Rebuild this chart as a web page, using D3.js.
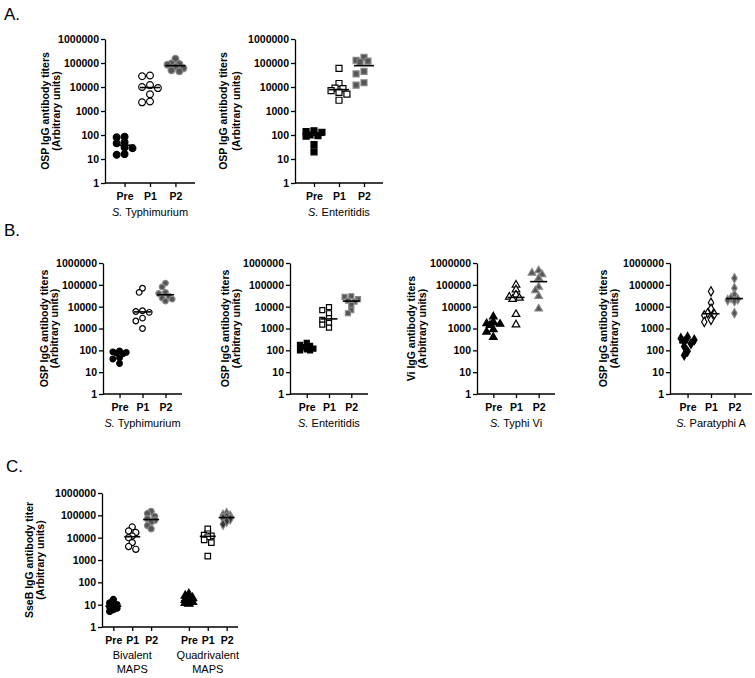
<!DOCTYPE html>
<html>
<head>
<meta charset="utf-8">
<title>MAPS antibody titers</title>
<script src="https://d3js.org/d3.v7.min.js"></script>
<style>
  body { margin: 0; background: #fff; }
  text { font-family: "Liberation Sans", Arial, sans-serif; fill: #000; }
  .tick text { font-weight: bold; font-size: 10.5px; }
  .axis path, .axis line { stroke: #000; stroke-width: 1.3px; }
  .ylab { font-weight: bold; font-size: 10.5px; }
  .sub { font-size: 11px; }
  .letter { font-size: 17px; }
</style>
</head>
<body>
<script>
const cats = ["Pre", "P1", "P2"];
const yTicks = [1, 10, 100, 1000, 10000, 100000, 1000000];

// A. bivalent MAPS
const aTyphimPre = [85, 80, 50, 45, 30, 28, 16, 15];
const aTyphimP1  = [30000, 28000, 12000, 10000, 9000, 5000, 2500, 2300];
const aTyphimP2  = [150000, 95000, 90000, 85000, 70000, 60000, 50000, 45000];
const aEnterPre  = [150, 140, 130, 100, 95, 90, 40, 20];
const aEnterP1   = [60000, 14000, 9000, 8500, 7000, 6000, 5000, 2800];
const aEnterP2   = [170000, 130000, 120000, 110000, 45000, 35000, 15000, 12000];

// B. quadrivalent MAPS
const bTyphimPre = [95, 85, 80, 75, 70, 45, 40, 25];
const bTyphimP1  = [70000, 45000, 6500, 6000, 5500, 3000, 2200, 1000];
const bTyphimP2  = [120000, 80000, 45000, 40000, 30000, 25000, 22000, 18000];
const bEnterPre  = [220, 180, 160, 140, 120, 110, 100, 100];
const bEnterP1   = [9500, 7000, 5000, 3000, 2500, 1800, 1500, 1100];
const bEnterP2   = [30000, 28000, 22000, 19000, 17000, 12000, 7000, 5000];
const bViPre     = [3500, 2000, 1700, 1600, 1400, 900, 700, 400];
const bViP1      = [100000, 60000, 35000, 28000, 25000, 22000, 4500, 1500];
const bViP2      = [450000, 350000, 300000, 200000, 80000, 55000, 30000, 8000];
const bParaPre   = [400, 350, 300, 250, 200, 150, 90, 60];
const bParaP1    = [50000, 15000, 8000, 5000, 4500, 4000, 2500, 2000];
const bParaP2    = [200000, 70000, 35000, 25000, 22000, 20000, 18000, 5000];

// C. SseB
const cGroups   = ["Bivalent", "Quadrivalent"];
const cBiPre    = [17, 12, 10, 9, 8, 7, 6, 5];
const cBiP1     = [30000, 20000, 17000, 12000, 10000, 6000, 4000, 3000];
const cBiP2     = [150000, 120000, 90000, 70000, 60000, 50000, 35000, 25000];
const cQuadPre  = [30, 25, 20, 16, 14, 13, 12, 11];
const cQuadP1   = [25000, 15000, 13000, 12000, 11000, 8000, 6000, 1500];
const cQuadP2   = [120000, 100000, 90000, 85000, 75000, 70000, 55000, 40000];

const svg = d3.select("body").append("svg")
  .attr("width", 755)
  .attr("height", 678);

const shapes = {
  circle: d3.symbolCircle, square: d3.symbolSquare,
  triangle: d3.symbolTriangle, diamond: d3.symbolDiamond
};

// small swarm: keep dots inside +-maxOff, allow some overlap like the original
function swarm(vals, y, r, maxOff) {
  const placed = [];
  const order = vals.map((v, i) => i).sort((a, b) => vals[b] - vals[a]);
  const off = new Array(vals.length).fill(0);
  const step = r * 1.2;
  const cand = [0];
  for (let k = 1; k * step <= maxOff; k++) { cand.push(-k * step, k * step); }
  order.forEach(i => {
    const py = y(vals[i]);
    let best = 0, bestD = -1;
    for (const dx of cand) {
      const d = placed.length ? d3.min(placed, p => Math.hypot(p[0] - dx, p[1] - py)) : 99;
      if (d >= r * 1.6) { best = dx; bestD = 99; break; }
      if (d > bestD) { bestD = d; best = dx; }
    }
    off[i] = best;
    placed.push([best, py]);
  });
  return off;
}

function panel(o) {
  const g = svg.append("g");
  const y = d3.scaleLog().domain([1, 1000000]).range([o.yBot, o.yTop]);
  const x = d3.scalePoint().domain(o.keys).range([o.x0, o.x1]).padding(o.pad);

  g.append("g").attr("class", "axis")
    .attr("transform", `translate(${o.x0},0)`)
    .call(d3.axisLeft(y).tickValues(yTicks).tickFormat(d3.format("d"))
      .tickSize(4).tickSizeOuter(0).tickPadding(2));

  const xa = g.append("g").attr("class", "axis")
    .attr("transform", `translate(0,${o.yBot})`)
    .call(d3.axisBottom(x).tickValues(o.keys.filter(k => k !== "gap"))
      .tickFormat(k => k.split("|")[1]).tickSize(4).tickPadding(6));
  xa.select(".domain").remove();
  xa.append("line").attr("x1", o.x0).attr("x2", o.x1)
    .attr("stroke", "#000").attr("stroke-width", 1.3);

  o.groups.forEach(gr => {
    const off = swarm(gr.values, y, o.r, o.mw / 2 - 1);
    const sym = d3.symbol().type(shapes[gr.shape]).size(o.size);
    g.selectAll(null).data(gr.values).enter().append("path")
      .attr("d", sym)
      .attr("transform", (d, i) => `translate(${x(gr.key) + off[i]},${y(d)})`)
      .attr("fill", gr.fill)
      .attr("stroke", gr.stroke || "#000")
      .attr("stroke-width", 1.2);
    const m = d3.median(gr.values);
    g.append("line")
      .attr("x1", x(gr.key) - o.mw / 2).attr("x2", x(gr.key) + o.mw / 2)
      .attr("y1", y(m)).attr("y2", y(m))
      .attr("stroke", "#000").attr("stroke-width", 1.6);
  });

  const yc = (o.yTop + o.yBot) / 2;
  o.ylab.forEach((t, i) => {
    g.append("text").attr("class", "ylab")
      .attr("transform", `translate(${o.lx[i]},${yc}) rotate(-90)`)
      .attr("text-anchor", "middle").attr("dy", "0.35em")
      .text(t);
  });

  o.subs.forEach(s => {
    const t = g.append("text").attr("class", "sub")
      .attr("x", x(o.keys[1])).attr("y", s.y)
      .attr("text-anchor", "middle");
    t.append("tspan").attr("font-style", "italic").text(s.it);
    t.append("tspan").text(s.t);
  });
  return x;
}

const abKeys = cats.map(c => "g|" + c);
function trio(pre, p1, p2, shape) {
  return [
    { key: abKeys[0], values: pre, shape: shape, fill: "#000" },
    { key: abKeys[1], values: p1, shape: shape, fill: "#fff" },
    { key: abKeys[2], values: p2, shape: shape, fill: "#555", stroke: "#888" }
  ];
}
const ospLab = ["OSP IgG antibody titers", "(Arbitrary units)"];

// A
panel({ x0: 105, x1: 195, yTop: 39, yBot: 183, pad: 0.77, keys: abKeys, r: 3.3, size: 36, mw: 20,
  groups: trio(aTyphimPre, aTyphimP1, aTyphimP2, "circle"), ylab: ospLab, lx: [45, 56],
  subs: [{ it: "S.", t: " Typhimurium", y: 216 }] });
panel({ x0: 295, x1: 383, yTop: 39, yBot: 183, pad: 0.76, keys: abKeys, r: 3.3, size: 36, mw: 20,
  groups: trio(aEnterPre, aEnterP1, aEnterP2, "square"), ylab: ospLab, lx: [223, 236],
  subs: [{ it: "S.", t: " Enteritidis", y: 216 }] });

// B
panel({ x0: 103, x1: 182, yTop: 263, yBot: 394, pad: 0.72, keys: abKeys, r: 2.8, size: 25, mw: 17,
  groups: trio(bTyphimPre, bTyphimP1, bTyphimP2, "circle"), ylab: ospLab, lx: [44, 54],
  subs: [{ it: "S.", t: " Typhimurium", y: 427 }] });
panel({ x0: 290, x1: 368, yTop: 263, yBot: 394, pad: 0.75, keys: abKeys, r: 2.8, size: 25, mw: 17,
  groups: trio(bEnterPre, bEnterP1, bEnterP2, "square"), ylab: ospLab, lx: [225, 236],
  subs: [{ it: "S.", t: " Enteritidis", y: 427 }] });
panel({ x0: 477, x1: 555, yTop: 263, yBot: 394, pad: 0.72, keys: abKeys, r: 2.8, size: 25, mw: 17,
  groups: trio(bViPre, bViP1, bViP2, "triangle"), ylab: ["Vi IgG antibody titers", "(Arbitrary units)"], lx: [411, 422],
  subs: [{ it: "S.", t: " Typhi Vi", y: 427 }] });
panel({ x0: 670, x1: 752, yTop: 263, yBot: 394, pad: 0.75, keys: abKeys, r: 2.8, size: 25, mw: 17,
  groups: trio(bParaPre, bParaP1, bParaP2, "diamond"), ylab: ospLab, lx: [603, 614],
  subs: [{ it: "S.", t: " Paratyphi A", y: 427 }] });

// C
const cKeys = cats.map(c => "b|" + c).concat(["gap"], cats.map(c => "q|" + c));
const xc = panel({ x0: 102, x1: 238, yTop: 493, yBot: 627, pad: 0.6, keys: cKeys, r: 3, size: 30, mw: 16,
  groups: [
    { key: cKeys[0], values: cBiPre, shape: "circle", fill: "#000" },
    { key: cKeys[1], values: cBiP1, shape: "circle", fill: "#fff" },
    { key: cKeys[2], values: cBiP2, shape: "circle", fill: "#555", stroke: "#888" },
    { key: cKeys[4], values: cQuadPre, shape: "triangle", fill: "#000" },
    { key: cKeys[5], values: cQuadP1, shape: "square", fill: "#fff" },
    { key: cKeys[6], values: cQuadP2, shape: "diamond", fill: "#333", stroke: "#888" }
  ],
  ylab: ["SseB IgG antibody titer", "(Arbitrary units)"], lx: [29, 40], subs: [] });
[cKeys[1], cKeys[5]].forEach((k, i) => {
  svg.append("text").attr("class", "sub").attr("text-anchor", "middle")
    .attr("x", xc(k)).attr("y", 659).text(cGroups[i]);
  svg.append("text").attr("class", "sub").attr("text-anchor", "middle")
    .attr("x", xc(k)).attr("y", 673).text("MAPS");
});

// panel letters
[["A.", 4, 20], ["B.", 4, 236], ["C.", 6, 472]].forEach(l => {
  svg.append("text").attr("class", "letter").attr("x", l[1]).attr("y", l[2]).text(l[0]);
});
</script>
</body>
</html>
